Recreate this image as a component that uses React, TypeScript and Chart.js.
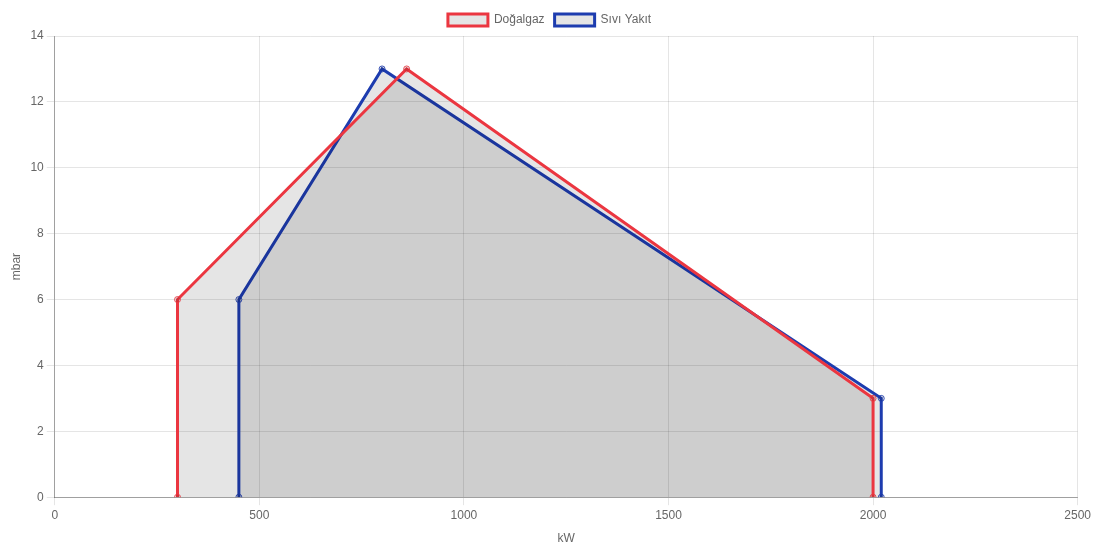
import React, { useEffect, useRef } from "react";
import { Chart, registerables } from "chart.js";

Chart.register(...registerables);

const gasX = [300, 300, 860, 2000, 2000];
const gasY = [0, 6, 13, 3, 0];
const oilX = [450, 450, 800, 2020, 2020];
const oilY = [0, 6, 13, 3, 0];
const seriesNames = ["Doğalgaz", "Sıvı Yakıt"];

export default function App() {
  const ref = useRef<HTMLCanvasElement>(null);
  useEffect(() => {
    if (!ref.current) return;
    Chart.defaults.font.family = "'Helvetica Neue', Helvetica, Arial, 'Liberation Sans', sans-serif";
    Chart.defaults.color = "#666";
    const chart = new Chart(ref.current, {
      type: "scatter",
      data: {
        datasets: [
          {
            label: seriesNames[0],
            data: gasX.map((x, i) => ({ x, y: gasY[i] })),
            showLine: true,
            borderColor: "rgb(235, 54, 64)",
            backgroundColor: "rgba(0,0,0,0.1)",
            pointBackgroundColor: "rgba(0,0,0,0.1)",
            pointBorderColor: "rgba(235, 54, 64, 0.85)",
            borderWidth: 3,
            pointRadius: 3,
            pointBorderWidth: 1,
            fill: true,
            tension: 0,
          },
          {
            label: seriesNames[1],
            data: oilX.map((x, i) => ({ x, y: oilY[i] })),
            showLine: true,
            borderColor: "rgb(29, 60, 175)",
            backgroundColor: "rgba(0,0,0,0.1)",
            pointBackgroundColor: "rgba(0,0,0,0.1)",
            pointBorderColor: "rgba(29, 60, 175, 0.85)",
            borderWidth: 3,
            pointRadius: 3,
            pointBorderWidth: 1,
            fill: true,
            tension: 0,
          },
        ],
      },
      options: {
        animation: false,
        responsive: true,
        maintainAspectRatio: false,
        plugins: {
          legend: { labels: { boxWidth: 40 } },
          tooltip: { enabled: false },
        },
        scales: {
          x: {
            type: "linear",
            min: 0,
            max: 2500,
            border: { color: "rgba(0,0,0,0.3)" },
            ticks: { stepSize: 500, callback: (v: any) => String(v) },
            title: { display: true, text: "kW", padding: { top: 6, bottom: 2 } },
          },
          y: {
            min: 0,
            max: 14,
            border: { color: "rgba(0,0,0,0.3)" },
            ticks: { stepSize: 2, callback: (v: any) => String(v) },
            title: { display: true, text: "mbar" },
          },
        },
      },
    });
    return () => chart.destroy();
  }, []);
  return (
    <div style={{ position: "relative", width: 1089, height: 544, marginLeft: -3, marginTop: -4 }}>
      <canvas ref={ref} />
    </div>
  );
}
